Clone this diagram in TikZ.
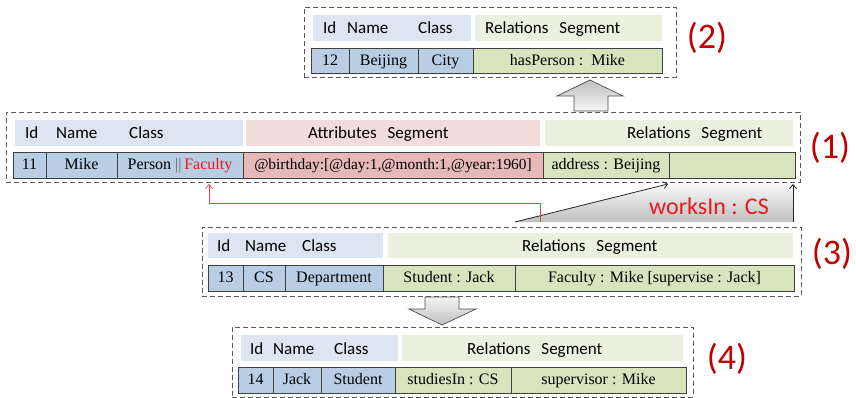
\documentclass[tikz,border=0pt]{standalone}
\usepackage{fontspec}
\setmainfont{Liberation Serif}
\newfontfamily\hdrfont{Carlito}
\usetikzlibrary{arrows.meta}

\definecolor{hdrblue}{RGB}{220,230,242}
\definecolor{hdrgreen}{RGB}{235,241,222}
\definecolor{hdrpink}{RGB}{242,220,219}
\definecolor{cellblue}{RGB}{185,205,229}
\definecolor{cellgreen}{RGB}{215,228,189}
\definecolor{cellpink}{RGB}{230,185,184}
\definecolor{tagred}{RGB}{192,0,0}
\definecolor{relred}{RGB}{235,25,30}
\definecolor{linkred}{RGB}{222,70,70}

% box node from corner (x1,y1) to (x2,y2): style, name, x1, y1, x2, y2, text
\newcommand\boxnode[7]{%
  \node[#1, minimum width={(#5-#3)*1pt}, minimum height={(#6-#4)*1pt}]
    (#2) at ({(#3+#5)/2},{(#4+#6)/2}) {#7};}

\tikzset{
  frame/.style={draw=black!65, dash pattern=on 5pt off 3pt, line width=0.9pt,
    inner sep=0pt, outer sep=0pt},
  hdrcell/.style={inner sep=0pt, outer sep=0pt},
  datacell/.style={draw=black!75, line width=0.8pt, inner sep=0pt, outer sep=0pt,
    font=\fontsize{16}{16}\selectfont, text height=10.5pt, text depth=1pt},
  hdrtext/.style={anchor=base west, inner sep=0pt,
    font=\hdrfont\fontsize{17}{17}\selectfont},
  tag/.style={inner sep=0pt, font=\hdrfont\fontsize{36}{36}\selectfont, text=tagred},
  blockarrow/.style={draw=black!70, line width=0.7pt},
  thinarrow/.style={line width=0.8pt, -{Straight Barb[length=4pt,width=7pt]}},
}

\begin{document}
\begin{tikzpicture}[x=1pt, y=-1pt]
\useasboundingbox (0,0) rectangle (856,398);

% ---------- record 12 : Beijing ----------
\boxnode{frame}{f2}{304}{7}{676}{77}{}
\boxnode{hdrcell, fill=hdrblue}{h2a}{313}{15}{471}{41}{}
\boxnode{hdrcell, fill=hdrgreen}{h2b}{475}{15}{662}{41}{}
\node[hdrtext] at (323,34) {Id};
\node[hdrtext] at (347,34) {Name};
\node[hdrtext] at (418,34) {Class};
\node[hdrtext] at (485,34) {Relations\hspace{11pt}Segment};
\boxnode{datacell, fill=cellblue}{c2id}{311}{48}{349}{73}{12}
\boxnode{datacell, fill=cellblue}{c2name}{349}{48}{418}{73}{Beijing}
\boxnode{datacell, fill=cellblue}{c2class}{418}{48}{473}{73}{City}
\boxnode{datacell, fill=cellgreen}{c2rel}{473}{48}{662}{73}{hasPerson :\ \ Mike}
\node[tag] (t2) at (707,38) {(2)};

% block arrow from record 11 up to record 12
\shadedraw[blockarrow, top color=gray!50, bottom color=gray!8]
  (590,80) -- (623,96) -- (608,96) -- (608,111) -- (574,111) -- (574,96)
  -- (557,96) -- cycle;

% ---------- record 11 : Mike ----------
\boxnode{frame}{f1}{6}{112}{800}{182}{}
\boxnode{hdrcell, fill=hdrblue}{h1a}{15}{120}{243}{146}{}
\boxnode{hdrcell, fill=hdrpink}{h1b}{246}{120}{540}{146}{}
\boxnode{hdrcell, fill=hdrgreen}{h1c}{545}{120}{793}{146}{}
\node[hdrtext] at (25,139) {Id};
\node[hdrtext] at (56,139) {Name};
\node[hdrtext] at (129,139) {Class};
\node[hdrtext] at (308,139) {Attributes\hspace{11pt}Segment};
\node[hdrtext] at (627,139) {Relations\hspace{11pt}Segment};
\boxnode{datacell, fill=cellblue}{c1id}{13}{152}{46}{178}{11}
\boxnode{datacell, fill=cellblue}{c1name}{46}{152}{117}{178}{Mike}
\boxnode{datacell, fill=cellblue}{c1class}{117}{152}{243}{178}
  {Person {\color{black!60}||}\,\textcolor{relred}{Faculty}}
\boxnode{datacell, fill=cellpink, font=\fontsize{15.4}{16}\selectfont}{c1attr}{243}{152}{543}{178}
  {@birthday:[@day:1,@month:1,@year:1960]}
\boxnode{datacell, fill=cellgreen}{c1rel}{543}{152}{669}{178}{address : Beijing}
\boxnode{datacell, fill=cellgreen}{c1new}{669}{152}{795}{178}{}
\node[tag] (t1) at (830,148) {(1)};

% relation added to record 11 from record 13
\coordinate (wfoot) at (515,222);
\coordinate (wtip) at (668,184);
\coordinate (vfoot) at (793,222);
\coordinate (vtip) at (793,184);
\shade[top color=gray!6, bottom color=gray!50]
  (wfoot) -- (wtip) -- (vtip) -- (vfoot) -- cycle;
\draw[thinarrow, black!85] (wfoot) -- (wtip);
\draw[thinarrow, black!85] (vfoot) -- (vtip);
\node[font=\hdrfont\fontsize{24}{24}\selectfont, text=relred, inner sep=0pt]
  (works) at (709,206) {worksIn : CS};

% class link from record 13 back to record 11
\coordinate (linkfoot) at (540,222);
\coordinate (linktip) at (209,184);
\draw[thinarrow, linkred, line width=0.7pt]
  (linkfoot) -- (540,203) -| (linktip);

% ---------- record 13 : CS ----------
\boxnode{frame}{f3}{202}{227}{801}{296}{}
\boxnode{hdrcell, fill=hdrblue}{h3a}{208}{233}{383}{258}{}
\boxnode{hdrcell, fill=hdrgreen}{h3b}{388}{233}{793}{258}{}
\node[hdrtext] at (217,251.5) {Id};
\node[hdrtext] at (245,251.5) {Name};
\node[hdrtext] at (302,251.5) {Class};
\node[hdrtext] at (522,251.5) {Relations\hspace{11pt}Segment};
\boxnode{datacell, fill=cellblue}{c3id}{208}{265}{243}{291}{13}
\boxnode{datacell, fill=cellblue}{c3name}{243}{265}{285}{291}{CS}
\boxnode{datacell, fill=cellblue}{c3class}{285}{265}{383}{291}{Department}
\boxnode{datacell, fill=cellgreen}{c3rel}{383}{265}{515}{291}{Student : Jack}
\boxnode{datacell, fill=cellgreen}{c3rel2}{515}{265}{794}{291}
  {Faculty : Mike [supervise : Jack]}
\node[tag] (t3) at (832,254) {(3)};

% block arrow from record 13 down to record 14
\shadedraw[blockarrow, top color=gray!8, bottom color=gray!50]
  (425,297) -- (459,297) -- (459,309) -- (476,309) -- (442,325) -- (409,309)
  -- (425,309) -- cycle;

% ---------- record 14 : Jack ----------
\boxnode{frame}{f4}{232}{327}{693}{397}{}
\boxnode{hdrcell, fill=hdrblue}{h4a}{241}{335}{398}{361}{}
\boxnode{hdrcell, fill=hdrgreen}{h4b}{402}{335}{683}{361}{}
\node[hdrtext] at (250,354) {Id};
\node[hdrtext] at (273,354) {Name};
\node[hdrtext] at (334,354) {Class};
\node[hdrtext] at (467,354) {Relations\hspace{11pt}Segment};
\boxnode{datacell, fill=cellblue}{c4id}{238}{367}{273}{393}{14}
\boxnode{datacell, fill=cellblue}{c4name}{273}{367}{321}{393}{Jack}
\boxnode{datacell, fill=cellblue}{c4class}{321}{367}{395}{393}{Student}
\boxnode{datacell, fill=cellgreen}{c4rel}{395}{367}{511}{393}{studiesIn : CS}
\boxnode{datacell, fill=cellgreen}{c4rel2}{511}{367}{686}{393}{supervisor : Mike}
\node[tag] (t4) at (727,359) {(4)};
\end{tikzpicture}
\end{document}
